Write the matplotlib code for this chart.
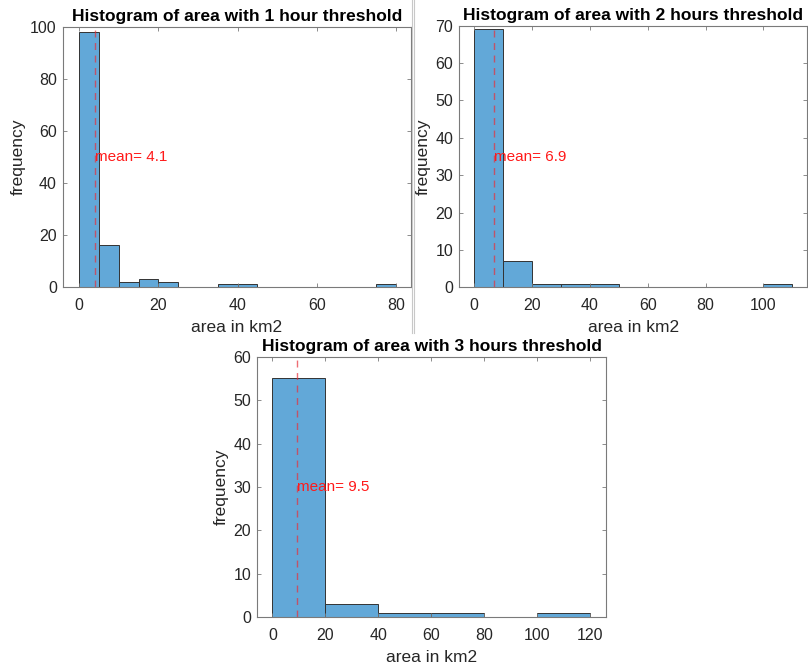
import matplotlib

matplotlib.use("Agg")
import matplotlib.pyplot as plt
from matplotlib.lines import Line2D

plt.rcParams["font.family"] = ["Liberation Sans", "DejaVu Sans"]

# histogram bins (left edges), bin width and counts
EDGES_1H = [0, 5, 10, 15, 20, 25, 30, 35, 40, 45, 50, 55, 60, 65, 70, 75]
COUNTS_1H = [98, 16, 2, 3, 2, 0, 0, 1, 1, 0, 0, 0, 0, 0, 0, 1]
WIDTH_1H = 5
MEAN_1H = 4.1

EDGES_2H = [0, 10, 20, 30, 40, 50, 60, 70, 80, 90, 100]
COUNTS_2H = [69, 7, 1, 1, 1, 0, 0, 0, 0, 0, 1]
WIDTH_2H = 10
MEAN_2H = 6.9

EDGES_3H = [0, 20, 40, 60, 80, 100]
COUNTS_3H = [55, 3, 1, 1, 0, 1]
WIDTH_3H = 20
MEAN_3H = 9.5

TITLES = [
    "Histogram of area with 1 hour threshold",
    "Histogram of area with 2 hours threshold",
    "Histogram of area with 3 hours threshold",
]

BAR_COLOR = "#62a8d8"
EDGE_COLOR = "#333333"
AXIS_COLOR = "#7a7a7a"
TEXT_COLOR = "#262626"

PANELS = [
    # (axes rect, edges, counts, width, mean, xlim, ylim, xticks, yticks)
    ([0.078, 0.5704, 0.4305, 0.3892], EDGES_1H, COUNTS_1H, WIDTH_1H, MEAN_1H,
     (-4.1, 83.8), (0, 100), range(0, 81, 20), range(0, 101, 20)),
    ([0.5684, 0.5699, 0.4307, 0.3916], EDGES_2H, COUNTS_2H, WIDTH_2H, MEAN_2H,
     (-5.2, 115.2), (0, 70), range(0, 101, 20), range(0, 71, 10)),
    ([0.3184, 0.0759, 0.4312, 0.3901], EDGES_3H, COUNTS_3H, WIDTH_3H, MEAN_3H,
     (-5.7, 126.0), (0, 60), range(0, 121, 20), range(0, 61, 10)),
]

fig = plt.figure(figsize=(8.08, 6.68), dpi=100)

for (rect, edges, counts, width, mean, xlim, ylim, xticks, yticks), title in zip(PANELS, TITLES):
    ax = fig.add_axes(rect)
    ax.bar(edges, counts, width=width, align="edge", color=BAR_COLOR,
           edgecolor=EDGE_COLOR, linewidth=0.7)
    ax.axvline(mean, color="#e8303a", linewidth=1.0, alpha=0.7, linestyle=(0, (5, 4)))
    ax.text(mean, ylim[1] / 2, f"mean= {mean}", color="#ff1a1a", fontsize=11,
            ha="left", va="center")

    ax.set_xlim(*xlim)
    ax.set_ylim(*ylim)
    ax.set_xticks(list(xticks))
    ax.set_yticks(list(yticks))
    ax.tick_params(direction="in", length=3, width=0.6, top=True, right=True,
                   colors=AXIS_COLOR, labelcolor=TEXT_COLOR, labelsize=11.5)
    ax.tick_params(axis="x", pad=8)
    ax.tick_params(axis="y", pad=4.5)
    for spine in ax.spines.values():
        spine.set_color(AXIS_COLOR)
        spine.set_linewidth(0.8)

    ax.set_title(title, fontsize=12.5, fontweight="bold", color="black", pad=4)
    ax.set_xlabel("area in km2", fontsize=12.5, color=TEXT_COLOR, labelpad=5)
    ax.set_ylabel("frequency", fontsize=12.5, color=TEXT_COLOR, labelpad=3)

# double separator between the two top panels
for x in (412 / 808, 414 / 808):
    fig.add_artist(Line2D([x, x], [0.5015, 1.0], color="#c8c8c8", linewidth=0.8))

fig.savefig("out.png", dpi=100, facecolor="white")
